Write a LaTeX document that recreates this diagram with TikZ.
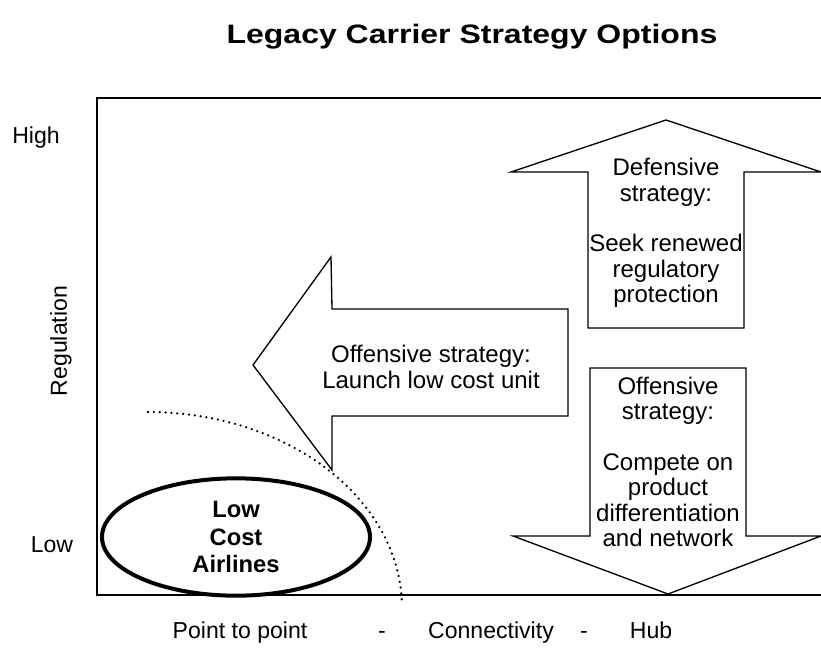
\documentclass[tikz,border=0pt]{standalone}
\usepackage{fontspec}
\setmainfont{Liberation Sans}
\usepackage{graphicx}
\usetikzlibrary{shapes.geometric}
\begin{document}
\begin{tikzpicture}[x=0.75pt,y=-0.75pt,
  titletext/.style={font=\fontsize{20pt}{24pt}\selectfont\bfseries, inner sep=0pt, anchor=base},
  axislabel/.style={font=\fontsize{17.3pt}{20pt}\selectfont, inner sep=0pt, anchor=base},
  bodytext/.style={font=\fontsize{18pt}{19pt}\selectfont, align=center, inner sep=0pt},
  bigarrow/.style={draw, line width=1pt, fill=white, line join=miter},
  frameline/.style={line width=1.3pt},
  boundary/.style={line width=1.9pt, line cap=round, dash pattern=on 0pt off 4.4pt},
  segment/.style={draw, ellipse, line width=3pt, inner sep=0pt,
    minimum width=201pt, minimum height=88pt, align=center,
    font=\fontsize{17.8pt}{20.6pt}\selectfont\bfseries}
]
\useasboundingbox (0,0) rectangle (821,647);

% title
\node[titletext] (title) at (472,43) {\scalebox{1.2}[1]{Legacy Carrier Strategy Options}};

% plot frame (open on the right)
\draw[frameline] (821,98) -- (97,98) -- (97,595) -- (821,595);

% axis labels
\node[axislabel] (high) at (36,143) {High};
\node[axislabel] (low) at (52,552) {Low};
\node[axislabel, anchor=center, rotate=90] (reg) at (61,341) {Regulation};
\node[axislabel] (ptp) at (240,638) {Point to point};
\node[axislabel] (dash1) at (382,638) {-};
\node[axislabel] (conn) at (491,638) {Connectivity};
\node[axislabel] (dash2) at (584,638) {-};
\node[axislabel] (hub) at (651,638) {Hub};

% boundary of the low cost segment
\draw[boundary] plot[domain=90:1, samples=90] ({148+254*cos(\x)},{608-196*sin(\x)});

% low cost segment
\node[segment] (lca) at (236,537) {Low\\Cost\\Airlines};

% offensive strategy: launch low cost unit (arrow pointing left)
\draw[bigarrow] (253,365) -- (331,257) -- (332,309) -- (568,309) -- (568,416)
  -- (332,416) -- (332,470) -- cycle;
\node[bodytext] (launch) at (431,367) {Offensive strategy:\\Launch low cost unit};

% defensive strategy (arrow pointing up)
\draw[bigarrow] (666,120) -- (821,172) -- (744,172) -- (744,328) -- (588,328)
  -- (588,172) -- (511,172) -- cycle;
\node[bodytext] (defend) at (666,233) {Defensive\\strategy:\\[19pt]Seek renewed\\regulatory\\protection};

% offensive strategy: differentiation (arrow pointing down)
\draw[bigarrow] (590,368) -- (746,368) -- (746,536) -- (821,536) -- (668,594)
  -- (513,536) -- (590,536) -- cycle;
\node[bodytext] (compete) at (668,462) {Offensive\\strategy:\\[19pt]Compete on\\product\\differentiation\\and network};
\end{tikzpicture}
\end{document}
